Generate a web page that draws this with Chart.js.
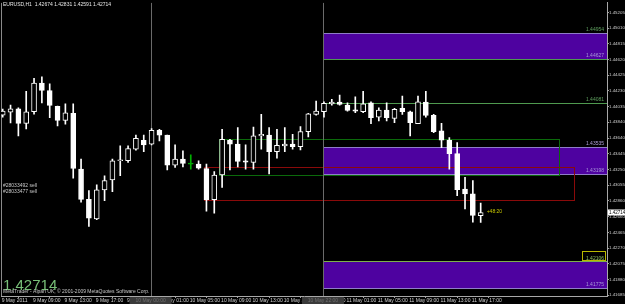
<!DOCTYPE html>
<html><head><meta charset="utf-8">
<script src="https://cdn.jsdelivr.net/npm/chart.js@4.4.1/dist/chart.umd.min.js"></script>
<style>html,body{margin:0;padding:0;background:#000;overflow:hidden}#wrap{width:625px;height:304px;position:relative}</style>
</head><body><div id="wrap"><canvas id="c" width="625" height="304"></canvas></div>
<script>
// ---- data ----
const symbolName = 'EURUSD,H1';
const timeLabels = ['9 May 2011','9 May 09:00','9 May 13:00','9 May 17:00','9 May 21:00','10 May 01:00','10 May 05:00','10 May 09:00','10 May 13:00','10 May 17:00','10 May 21:00','11 May 01:00','11 May 05:00','11 May 09:00','11 May 13:00','11 May 17:00'];
const timeLabelIdx = [0,4,8,12,16,20,24,28,32,36,40,44,48,52,56,60];
const opens = [1.43928,1.43965,1.44006,1.43825,1.43969,1.44328,1.44234,1.44036,1.43862,1.43949,
1.43255,1.42878,1.42635,1.42995,1.43119,1.43358,1.43358,1.43503,1.43614,1.43565,
1.43738,1.43680,1.43305,1.43379,1.43317,1.43317,1.43262,1.42874,1.43181,1.43614,
1.43565,1.43358,1.43337,1.43668,1.43680,1.43473,1.43544,1.43565,1.43535,1.43721,
1.43937,1.43969,1.44068,1.44089,1.44052,1.43994,1.43969,1.44080,1.43903,1.43990,
1.43887,1.44011,1.43969,1.43820,1.44089,1.43924,1.43730,1.43614,1.43448,1.43007,
1.42945,1.42674];
const highs = [1.44002,1.44052,1.44019,1.44225,1.44387,1.44403,1.44316,1.44040,1.44068,1.44068,
1.43379,1.42986,1.43060,1.43172,1.43379,1.43544,1.43544,1.43680,1.43680,1.43758,
1.43751,1.43680,1.43556,1.43482,1.43432,1.43358,1.43317,1.43225,1.43751,1.43627,
1.43771,1.43556,1.43779,1.43937,1.43771,1.43751,1.43771,1.43689,1.43783,1.43949,
1.44102,1.44093,1.44123,1.44176,1.44080,1.44155,1.44225,1.44093,1.44019,1.44080,
1.44011,1.44164,1.43978,1.44164,1.44225,1.43937,1.43825,1.43647,1.43585,1.43151,
1.43110,1.42831];
const lows = [1.43903,1.43829,1.43668,1.43754,1.43940,1.44080,1.43895,1.43792,1.43813,1.43143,
1.42841,1.42540,1.42623,1.42862,1.42974,1.43172,1.43337,1.43490,1.43473,1.43556,
1.43606,1.43243,1.43275,1.43283,1.43255,1.43255,1.42729,1.42705,1.43027,1.43243,
1.43283,1.43255,1.43255,1.43503,1.43193,1.43391,1.43473,1.43503,1.43494,1.43655,
1.43928,1.43903,1.44052,1.44052,1.43978,1.43957,1.43957,1.43820,1.43854,1.43854,
1.43833,1.43937,1.43668,1.43820,1.43903,1.43709,1.43523,1.43255,1.42924,1.42759,
1.42593,1.42591];
const closes = [1.43978,1.44006,1.43825,1.43969,1.44328,1.44234,1.44048,1.43862,1.43957,1.43262,
1.42878,1.42643,1.42995,1.43110,1.43358,1.43370,1.43510,1.43639,1.43556,1.43738,
1.43676,1.43305,1.43379,1.43324,1.43317,1.43267,1.42874,1.43181,1.43627,1.43565,
1.43349,1.43342,1.43668,1.43689,1.43473,1.43552,1.43565,1.43535,1.43721,1.43944,
1.43978,1.44073,1.44089,1.44061,1.43986,1.43978,1.44068,1.43895,1.43990,1.43895,
1.43999,1.43969,1.43833,1.44093,1.43924,1.43721,1.43614,1.43448,1.42998,1.42945,
1.42676,1.42714];
const markedBars = [24];
const yTickValues = [1.45205,1.45010,1.44815,1.44620,1.44425,1.44230,1.44035,1.43840,1.43640,1.43445,1.43250,1.43055,1.42860,1.42660,1.42465,1.42270,1.42075,1.41880,1.41685];
const vLineIdx = [19, 41];
const vLineLabels = ['10 May 00:00', '10 May 22:00'];
const zoneTop = [1.44954, 1.43535, 1.42106];
const zoneBottom = [1.44627, 1.43198, 1.41775];
const lineLevels = [1.44081];
const rectStart = [27.6, 25.7];
const rectEnd = [71.0, 72.9];
const rectTop = [1.43627, 1.43283];
const rectBottom = [1.43181, 1.42874];
const orderLabels = ['#28033492 sell', '#28033477 sell'];
const orderLabelPrices = [1.43050, 1.42974];
const profitLabel = '+48:20';
const copyright = 'MetaTrader - Alpari UK, \u00a9 2001-2009 MetaQuotes Software Corp.';
const Y_MIN = 1.41673, Y_MAX = 1.45329, X_MIN = -0.217, X_MAX = 77.12;

// ---- chart ----
const FAM = '"Liberation Sans", Arial, sans-serif';
const idx = opens.map((_, i) => i);
const isBull = i => closes[i] >= opens[i];
const bodyData = idx.map(i => ({x: i, y: [Math.min(opens[i], closes[i]), Math.max(opens[i], closes[i])]}));
const wickData = idx.map(i => ({x: i, y: [lows[i], highs[i]]}));
const colFor = i => markedBars.includes(i) ? '#00b000' : '#ffffff';

const overlay = {
  id: 'overlay',
  beforeDatasetsDraw(chart) {
    const {ctx, chartArea: a, scales: {x, y}} = chart;
    ctx.save();
    ctx.beginPath(); ctx.rect(a.left, a.top, a.right - a.left, a.bottom - a.top); ctx.clip();
    const zx = Math.round(x.getPixelForValue(vLineIdx[1]));
    zoneTop.forEach((t, k) => {
      const y1 = Math.round(y.getPixelForValue(t)), y2 = Math.round(y.getPixelForValue(zoneBottom[k]));
      ctx.fillStyle = 'rgb(78,2,160)';
      ctx.fillRect(zx, y1, a.right - zx, y2 - y1);
      ctx.lineWidth = 1;
      ctx.strokeStyle = k === 2 ? '#7db04a' : '#8f7cc8';
      ctx.beginPath(); ctx.moveTo(zx, y1 + 0.5); ctx.lineTo(a.right, y1 + 0.5); ctx.stroke();
      ctx.strokeStyle = k === 0 ? '#4f9a4f' : '#8f7cc8';
      ctx.beginPath(); ctx.moveTo(zx, y2 + 0.5); ctx.lineTo(a.right, y2 + 0.5); ctx.stroke();
    });
    lineLevels.forEach(v => {
      const yy = Math.round(y.getPixelForValue(v)) + 0.5;
      ctx.strokeStyle = '#4f9a4f';
      ctx.beginPath(); ctx.moveTo(zx, yy); ctx.lineTo(a.right, yy); ctx.stroke();
    });
    const rc = ['#0b6a0b', '#8a0a0a'];
    rectStart.forEach((s, k) => {
      const x1 = Math.round(x.getPixelForValue(s)) + 0.5, x2 = Math.round(x.getPixelForValue(rectEnd[k])) + 0.5;
      const y1 = Math.round(y.getPixelForValue(rectTop[k])) + 0.5, y2 = Math.round(y.getPixelForValue(rectBottom[k])) + 0.5;
      ctx.strokeStyle = rc[k];
      ctx.strokeRect(x1, y1, x2 - x1, y2 - y1);
    });
    ctx.strokeStyle = '#6a6a6a';
    vLineIdx.forEach(v => {
      const xx = Math.round(x.getPixelForValue(v)) - 0.5;
      ctx.beginPath(); ctx.moveTo(xx, a.top); ctx.lineTo(xx, a.bottom); ctx.stroke();
    });
    ctx.strokeStyle = '#8a8a8a';
    ctx.beginPath(); ctx.moveTo(a.left + 0.5, a.top); ctx.lineTo(a.left + 0.5, a.bottom); ctx.stroke();
    ctx.restore();
  },
  afterDraw(chart) {
    const {ctx, chartArea: a, scales: {x, y}} = chart;
    ctx.save();
    const last = closes.length - 1;
    ctx.textBaseline = 'middle';
    ctx.textAlign = 'left';
    ctx.font = '5px ' + FAM;
    ctx.fillStyle = '#e8e8e8';
    ctx.fillText(symbolName + '  ' + opens[last].toFixed(5) + ' ' + highs[last].toFixed(5) + ' ' + lows[last].toFixed(5) + ' ' + closes[last].toFixed(5), 3, 5);
    ctx.fillStyle = '#c8c8c8';
    orderLabels.forEach((t, k) => ctx.fillText(t, 3, y.getPixelForValue(orderLabelPrices[k])));
    ctx.fillStyle = '#c8c800';
    ctx.fillText(profitLabel, x.getPixelForValue(last) + 6, y.getPixelForValue(closes[last]) - 1);
    ctx.textAlign = 'right';
    ctx.textBaseline = 'bottom';
    const lx = a.right - 3;
    zoneTop.forEach((t, k) => {
      ctx.fillStyle = k === 0 ? '#5fa05f' : (k === 2 ? '#8fc060' : '#b0a0d8');
      ctx.fillText(t.toFixed(5), lx, y.getPixelForValue(t) - 0.5);
      ctx.fillStyle = '#a898d8';
      ctx.fillText(zoneBottom[k].toFixed(5), lx, y.getPixelForValue(zoneBottom[k]) - 0.5);
    });
    lineLevels.forEach(v => {
      ctx.fillStyle = '#5fa05f';
      ctx.fillText(v.toFixed(5), lx, y.getPixelForValue(v) - 0.5);
    });
    const yb = Math.round(y.getPixelForValue(zoneTop[2]));
    ctx.strokeStyle = '#b8b800';
    ctx.strokeRect(a.right - 24.5, yb - 9.5, 23, 9);
    const cy = y.getPixelForValue(closes[last]);
    ctx.fillStyle = '#ffffff';
    ctx.fillRect(a.right + 1, cy - 3, 625 - a.right - 1, 6);
    ctx.fillStyle = '#000000';
    ctx.textAlign = 'left';
    ctx.textBaseline = 'middle';
    ctx.font = '4.5px ' + FAM;
    ctx.fillText(closes[last].toFixed(5), a.right + 2, cy);
    ctx.font = '5px ' + FAM;
    vLineIdx.forEach((v, k) => {
      const xx = x.getPixelForValue(v);
      ctx.fillStyle = '#3a3a3a';
      ctx.fillRect(xx - 22, a.bottom + 1, 42, 7);
      ctx.fillStyle = '#707070';
      ctx.textAlign = 'center';
      ctx.fillText(vLineLabels[k], xx - 1, a.bottom + 4.5);
    });
    ctx.textAlign = 'left';
    ctx.textBaseline = 'alphabetic';
    ctx.font = '15px ' + FAM;
    ctx.fillStyle = '#78c078';
    ctx.fillText(closes[last].toFixed(5), 3, 290);
    ctx.font = '5px ' + FAM;
    ctx.textBaseline = 'middle';
    ctx.fillStyle = '#c8c8c8';
    ctx.fillText(copyright, 3, 292);
    ctx.restore();
  }
};

new Chart(document.getElementById('c'), {
  type: 'bar',
  data: {
    datasets: [
      {
        label: 'body', data: bodyData, grouped: false, barThickness: 5, minBarLength: 1,
        backgroundColor: idx.map(i => markedBars.includes(i) ? '#00b000' : (isBull(i) ? '#000000' : '#ffffff')),
        borderColor: idx.map(colFor), borderWidth: 1, borderSkipped: false
      },
      {
        label: 'wick', data: wickData, grouped: false, barThickness: 1,
        backgroundColor: idx.map(colFor), borderWidth: 0
      }
    ]
  },
  options: {
    responsive: false, animation: false, devicePixelRatio: 1,
    layout: {padding: {top: 1, left: 1, right: 0, bottom: 0}},
    plugins: {legend: {display: false}, tooltip: {enabled: false}},
    scales: {
      x: {
        type: 'linear', min: X_MIN, max: X_MAX, offset: false,
        afterBuildTicks: s => { s.ticks = timeLabelIdx.map(v => ({value: v})); },
        afterFit: s => { s.height = 8; },
        ticks: {color: '#d0d0d0', font: {size: 5, family: FAM}, align: 'start', padding: 0, labelOffset: -1, maxRotation: 0, autoSkip: false,
          callback: (v, i) => timeLabels[i]},
        grid: {drawOnChartArea: false, tickLength: 2, color: '#a0a0a0'},
        border: {color: '#a8a8a8'}
      },
      y: {
        position: 'right', min: Y_MIN, max: Y_MAX,
        afterBuildTicks: s => { s.ticks = yTickValues.map(v => ({value: v})); },
        afterFit: s => { s.width = 18; },
        ticks: {color: '#d0d0d0', font: {size: 4.4, family: FAM}, padding: 0, autoSkip: false, crossAlign: 'near',
          callback: v => Number(v).toFixed(5)},
        grid: {drawOnChartArea: false, tickLength: 2, color: '#a0a0a0'},
        border: {color: '#a8a8a8'}
      }
    }
  },
  plugins: [overlay]
});
</script></body></html>
